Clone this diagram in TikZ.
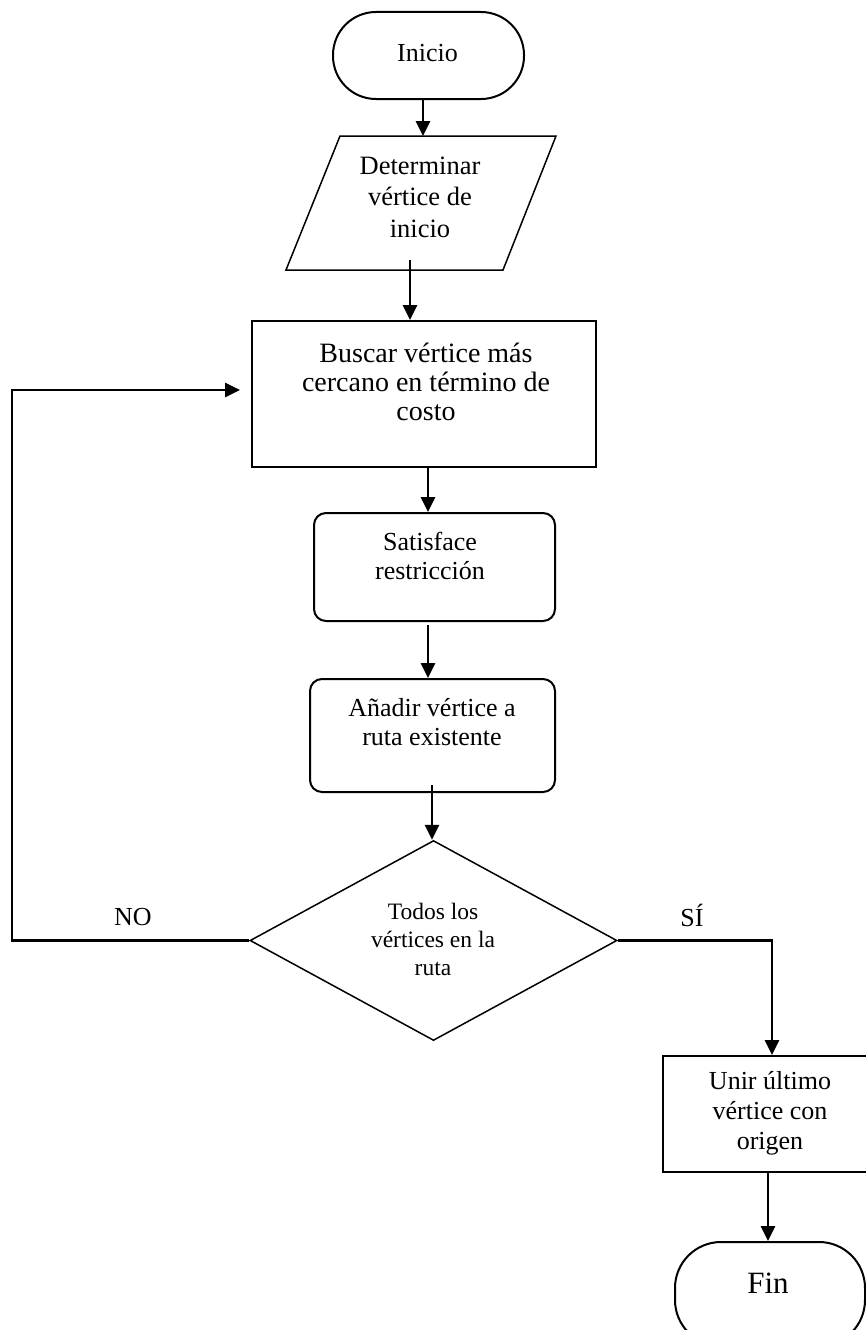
\documentclass[tikz,border=0pt]{standalone}
\usepackage{fontspec}
\setmainfont{Liberation Serif}
\usetikzlibrary{arrows.meta,shapes.geometric}
\begin{document}
\begin{tikzpicture}[x=1pt,y=-1pt,
  conn/.style={line width=2.8pt},
  arr/.style={conn,-{Triangle[length=15pt,width=14pt]}},
  boxline/.style={draw,line width=2pt,inner sep=0pt},
  txt/.style={align=center,inner sep=0pt,font=\fontsize{26}{30}\selectfont},
  ]
\useasboundingbox (0,0) rectangle (866,1330);

% Inicio
\node[boxline, rounded corners=43pt, minimum width=191pt, minimum height=87pt] (inicio) at (428.5,55.5) {};
\node[txt] (tinicio) at (427.5,53) {Inicio};

% parallelogram
\coordinate (pA) at (340,136);
\coordinate (pB) at (556,136);
\coordinate (pC) at (503,270);
\coordinate (pD) at (286,270);
\draw[line width=1.5pt] (pA) -- (pB) -- (pC) -- (pD) -- cycle;
\node[txt,font=\fontsize{26.5}{31.5}\selectfont] (para) at (420,197) {Determinar\\vértice de\\inicio};

% Buscar
\node[boxline, minimum width=344pt, minimum height=146pt] (buscar) at (424,394) {};
\node[txt,font=\fontsize{28}{29}\selectfont] (tbuscar) at (426,381.5) {Buscar vértice más\\cercano en término de\\costo};

% Satisface
\node[boxline, rounded corners=12pt, minimum width=241pt, minimum height=108pt] (satis) at (434.5,567) {};
\node[txt,font=\fontsize{26}{28.5}\selectfont] (tsatis) at (430,556) {Satisface\\restricción};

% Añadir
\node[boxline, rounded corners=12pt, minimum width=245pt, minimum height=113pt] (anadir) at (432.5,735.5) {};
\node[txt,font=\fontsize{26}{29}\selectfont] (tanadir) at (432,722) {Añadir vértice a\\ruta existente};

% decision
\node[draw, diamond, aspect=1.835, minimum width=367pt, minimum height=200pt, inner sep=0pt, line width=1.5pt] (dec) at (433.5,940.5) {};
\node[txt,font=\fontsize{23.5}{28}\selectfont] (tdec) at (433,939) {Todos los\\vértices en la\\ruta};

% Unir
\node[boxline, minimum width=214pt, minimum height=116pt] (unir) at (770,1114) {};
\node[txt,font=\fontsize{26}{30}\selectfont] (tunir) at (770,1113) {Unir último\\vértice con\\origen};

% Fin
\node[boxline, rounded corners=46pt, minimum width=190pt, minimum height=104pt] (fin) at (770,1294) {};
\node[txt,font=\fontsize{31}{34}\selectfont] (tfin) at (768,1283) {Fin};

% labels
\node[txt] (no) at (133,917) {NO};
\node[txt] (si) at (692,915) {SÍ};

% connectors
\coordinate (ptop) at (423,136);
\draw[arr] (inicio.south -| ptop) -- (ptop);
\coordinate (pout) at (410,260);
\draw[arr] (pout) -- (pout |- buscar.north);
\coordinate (c3) at (428,0);
\draw[arr] (buscar.south -| c3) -- (satis.north -| c3);
\coordinate (s4) at (428,625);
\draw[arr] (s4) -- (s4 |- anadir.north);
\coordinate (s5) at (432,785);
\draw[arr] (s5) -- (s5 |- dec.north);
\coordinate (noL) at (12,0);
\coordinate (noT) at (240,390);
\draw[arr] (dec.west) -- (dec.west -| noL) |- (noT);
\coordinate (siX) at (772,0);
\draw[arr] (dec.east) -- (dec.east -| siX) -- (siX |- unir.north);
\coordinate (fx) at (768,0);
\draw[arr] (unir.south -| fx) -- (fin.north -| fx);
\end{tikzpicture}
\end{document}
